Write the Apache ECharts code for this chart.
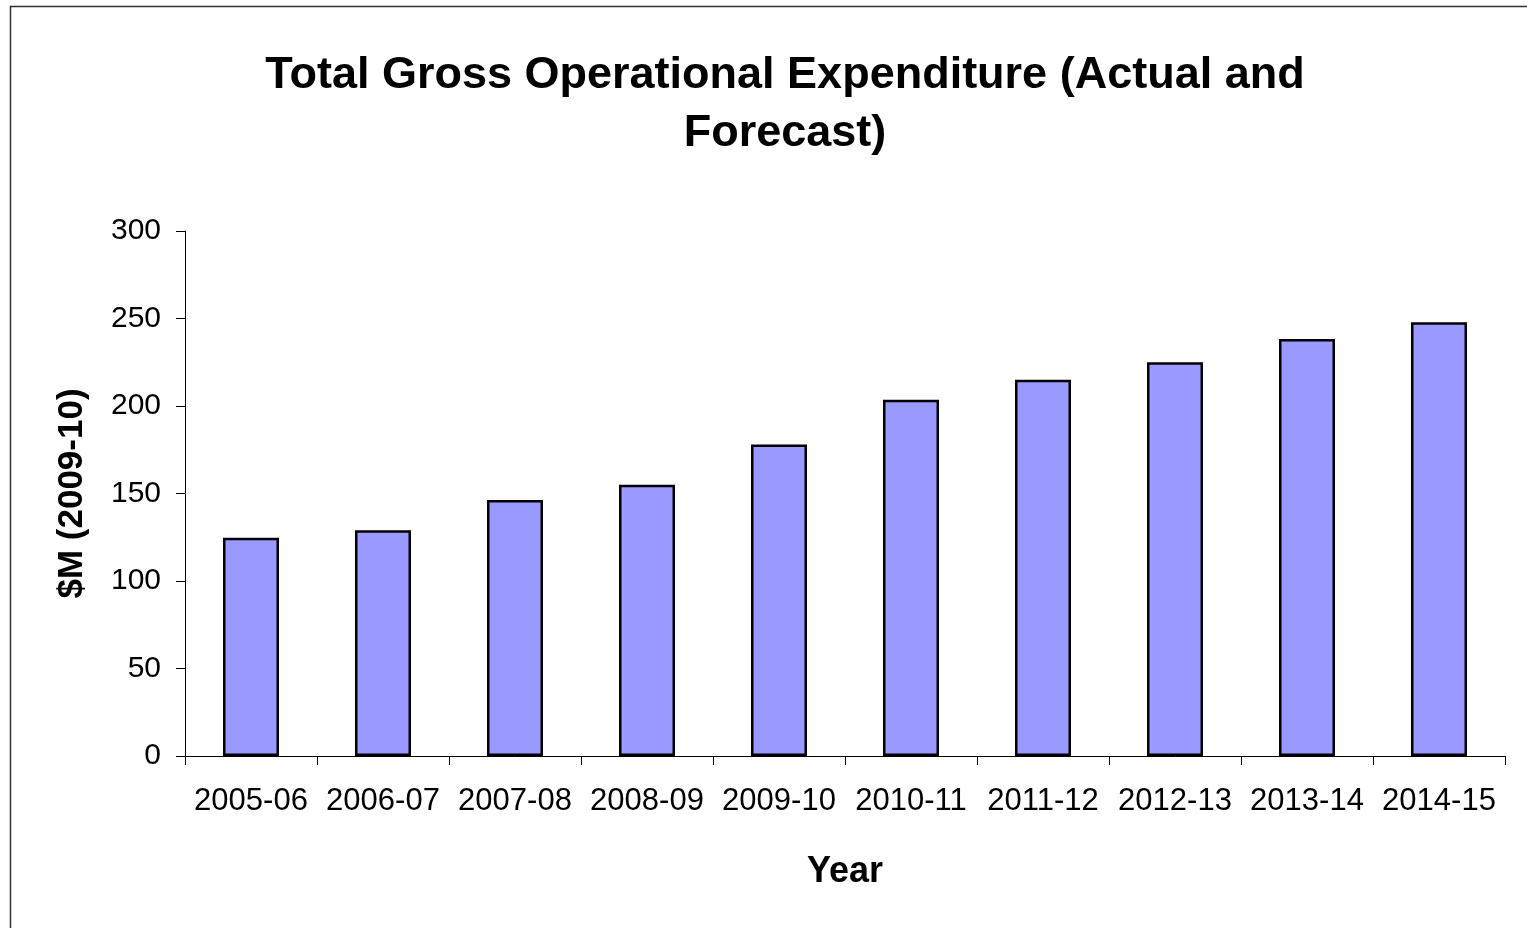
<!DOCTYPE html>
<html>
<head>
<meta charset="utf-8">
<script src="https://cdn.jsdelivr.net/npm/echarts@6/dist/echarts.min.js"></script>
<style>
html, body { margin: 0; padding: 0; background: #fff; }
#chart { width: 1527px; height: 928px; }
</style>
</head>
<body>
<div id="chart"></div>
<script>
var years = ['2005-06', '2006-07', '2007-08', '2008-09', '2009-10', '2010-11', '2011-12', '2012-13', '2013-14', '2014-15'];
var spending = [124.7, 129, 146.3, 155, 178, 203.6, 215, 225, 238.3, 247.8];
var yTicks = [0, 50, 100, 150, 200, 250, 300];

var myChart = echarts.init(document.getElementById('chart'));
var option = {
  animation: false,
  textStyle: { fontFamily: 'Liberation Sans, Arial, sans-serif' },
  title: {
    text: 'Total Gross Operational Expenditure (Actual and\nForecast)',
    left: 780,
    textAlign: 'center',
    top: 42,
    textStyle: { fontSize: 45, fontWeight: 'bold', color: '#000', lineHeight: 58 }
  },
  // outer frame of the chart
  graphic: [{
    type: 'rect',
    shape: { x: 10.5, y: 6.5, width: 1530, height: 940 },
    style: { fill: 'none', stroke: '#333', lineWidth: 1.5 }
  }],
  grid: { left: 185, right: 22, top: 231, bottom: 172 },
  xAxis: {
    type: 'category',
    data: years,
    name: 'Year',
    nameLocation: 'middle',
    nameGap: 98,
    nameTextStyle: { fontSize: 36, fontWeight: 'bold', color: '#000' },
    axisLine: { lineStyle: { color: '#000', width: 1 } },
    axisTick: { show: true, interval: 0, length: 9, lineStyle: { color: '#000' } },
    axisLabel: { interval: 0, hideOverlap: false, fontSize: 31, color: '#000', margin: 30 }
  },
  yAxis: {
    type: 'value',
    min: yTicks[0],
    max: yTicks[yTicks.length - 1],
    interval: 50,
    name: '$M (2009-10)',
    nameLocation: 'middle',
    nameGap: 95,
    nameRotate: 90,
    nameTextStyle: { fontSize: 35, fontWeight: 'bold', color: '#000' },
    axisLine: { show: true, lineStyle: { color: '#000', width: 1 } },
    axisTick: { show: true, length: 9, lineStyle: { color: '#000' } },
    axisLabel: { fontSize: 30, color: '#000', margin: 24 },
    splitLine: { show: false }
  },
  series: [{
    type: 'bar',
    data: spending,
    barWidth: 56,
    itemStyle: { color: '#9999ff', borderColor: '#000', borderWidth: 2.5 }
  }]
};
myChart.setOption(option);
</script>
</body>
</html>
